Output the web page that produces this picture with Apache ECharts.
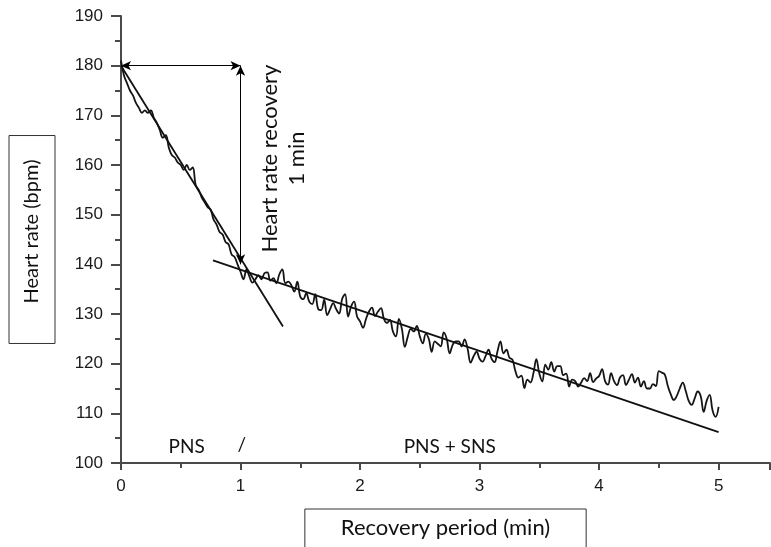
<!DOCTYPE html>
<html>
<head>
<meta charset="utf-8">
<script src="https://cdn.jsdelivr.net/npm/echarts@6/dist/echarts.min.js"></script>
<style>
  html, body { margin: 0; padding: 0; background: #fff; }
  #chart { width: 771px; height: 547px; }
</style>
</head>
<body>
<div id="chart"></div>
<script>
// heart rate samples, one every 0.025 min (1.5 s)
var hrStep = 0.025;
var heartRate = [
  181, 178, 176.5, 175, 174, 172.5, 171.5, 170.5, 171, 170.5,
  171, 169.5, 168.5, 167, 165.5, 166, 163.5, 162, 161.5, 160.5,
  160, 159, 160, 159, 159.5, 156, 155, 153.5, 152.5, 151.5,
  151, 149, 148, 146.5, 146, 144.5, 144, 142, 141.5, 140,
  138.5, 137, 139, 137.5, 136.3, 137, 137.8, 137, 138.2, 138.4,
  136.7, 137.2, 136.2, 138, 139, 136.2, 136.5, 135.8, 134.5, 136.5,
  133.5, 133, 134.2, 132.5, 132, 134, 131, 130.8, 132.9, 129.8,
  131, 132.2, 131, 130.1, 133, 134, 129.5, 131.5, 132.5, 129.5,
  128.5, 127.2, 129, 130.5, 131.3, 129.6, 130.5, 131.2, 129, 128.2,
  128.8, 126.5, 125.5, 129, 127, 123.4, 125.5, 127, 126.5, 127.6,
  125.5, 124.1, 126, 125, 122.4, 124.5, 124, 123.5, 126.3, 125,
  122.1, 123.8, 124.5, 124.5, 123.5, 124.9, 123, 120.2, 121.5, 122.4,
  121, 120.4, 121.5, 122.8, 121, 120.3, 122.5, 124.5, 122.1, 122.8,
  121.2, 120.8, 118.5, 117.2, 117.6, 115.1, 116.8, 116.2, 118, 120.9,
  118, 116.4, 119.8, 118.8, 120.3, 118.4, 119.5, 119.5, 117.7, 118,
  115.4, 116.8, 116.5, 115.4, 116.2, 117.1, 116.5, 118.1, 116.3, 117,
  117.5, 118.9, 116.5, 115.8, 118.1, 116.5, 115.7, 117.2, 117.7, 115.7,
  116.8, 117.9, 116.2, 117.2, 115.4, 116.5, 115, 115, 115.9, 115.5,
  118.5, 118.2, 117.8, 115.5, 113.8, 112.7, 113.5, 115, 116.2, 114.5,
  112.5, 111.7, 113, 114.4, 113.5, 110.3, 112.5, 113.7, 110.5, 109.3,
  111.3
];

// fitted lines: fast (PNS) phase and slow (PNS + SNS) phase
var fastFit = [[0, 180], [1.355, 127.5]];
var slowFit = [[0.77, 140.8], [5.0, 106.2]];

// HRR 1 min arrows
var hrrStart = [0, 180];
var hrrMinute = [1, 180];
var hrrBottom = [1, 140];

var phaseLabels = [
  { name: 'PNS', coord: [0.55, 103.2] },
  { name: '/', coord: [1.01, 103.6] },
  { name: 'PNS + SNS', coord: [2.75, 103.2] }
];

var trace = heartRate.map(function (v, i) {
  return [+(i * hrStep).toFixed(3), v];
});

var myChart = echarts.init(document.getElementById('chart'));

var axisColor = '#4a4a4a';
var textFont = 'Lato';

myChart.setOption({
  animation: false,
  backgroundColor: '#fff',
  grid: { left: 121, right: 1, top: 16, bottom: 84, outerBoundsMode: 'none', containLabel: false },
  xAxis: {
    type: 'value',
    min: 0,
    max: 5.43,
    interval: 1,
    name: 'Recovery period (min)',
    nameLocation: 'middle',
    nameGap: 46,
    nameTextStyle: {
      fontFamily: textFont, fontSize: 22, color: '#111',
      borderColor: '#333', borderWidth: 1,
      padding: [8, 36, 30, 36]
    },
    axisLine: { lineStyle: { color: axisColor, width: 2 } },
    axisTick: { length: 7, lineStyle: { color: axisColor, width: 2 } },
    minorTick: { show: true, splitNumber: 2, length: 5, lineStyle: { color: axisColor, width: 2 } },
    axisLabel: { showMaxLabel: false, margin: 15, fontFamily: 'Liberation Sans', fontSize: 17, color: '#1a1a1a' },
    splitLine: { show: false }
  },
  yAxis: {
    type: 'value',
    min: 100,
    max: 190,
    interval: 10,
    name: 'Heart rate (bpm)',
    nameLocation: 'middle',
    nameRotate: 90,
    nameGap: 66,
    nameTextStyle: {
      fontFamily: textFont, fontSize: 20, color: '#111',
      borderColor: '#333', borderWidth: 1,
      padding: [13, 24, 13, 40]
    },
    axisLine: { show: true, lineStyle: { color: axisColor, width: 2 } },
    axisTick: { show: true, length: 10, lineStyle: { color: axisColor, width: 2 } },
    minorTick: { show: true, splitNumber: 2, length: 6, lineStyle: { color: axisColor, width: 2 } },
    axisLabel: { margin: 18, fontFamily: 'Liberation Sans', fontSize: 17, color: '#1a1a1a' },
    splitLine: { show: false }
  },
  series: [
    {
      type: 'line',
      data: trace,
      showSymbol: false,
      smooth: 0.4,
      lineStyle: { color: '#151515', width: 1.8 },
      z: 3
    },
    {
      type: 'line',
      data: fastFit,
      showSymbol: false,
      lineStyle: { color: '#111', width: 1.8 },
      markLine: {
        silent: true,
        symbol: ['arrow', 'arrow'],
        symbolSize: [7, 10],
        label: { show: false },
        lineStyle: { color: '#000', width: 1, type: 'solid' },
        data: [
          [{ coord: hrrStart }, { coord: hrrMinute }],
          [{ coord: hrrBottom }, { coord: hrrMinute }]
        ]
      },
      markPoint: {
        silent: true,
        symbol: 'circle',
        symbolSize: 0,
        label: {
          show: true, position: 'inside', formatter: '{b}',
          fontFamily: textFont, fontSize: 19, color: '#111'
        },
        data: phaseLabels.concat([{
          name: 'Heart rate recovery\n1 min',
          coord: [1.359, 161.3],
          label: { rotate: 90, align: 'center', fontSize: 22, lineHeight: 27 }
        }])
      }
    },
    {
      type: 'line',
      data: slowFit,
      showSymbol: false,
      lineStyle: { color: '#111', width: 1.8 }
    }
  ]
});

window.addEventListener('resize', myChart.resize);
</script>
</body>
</html>
